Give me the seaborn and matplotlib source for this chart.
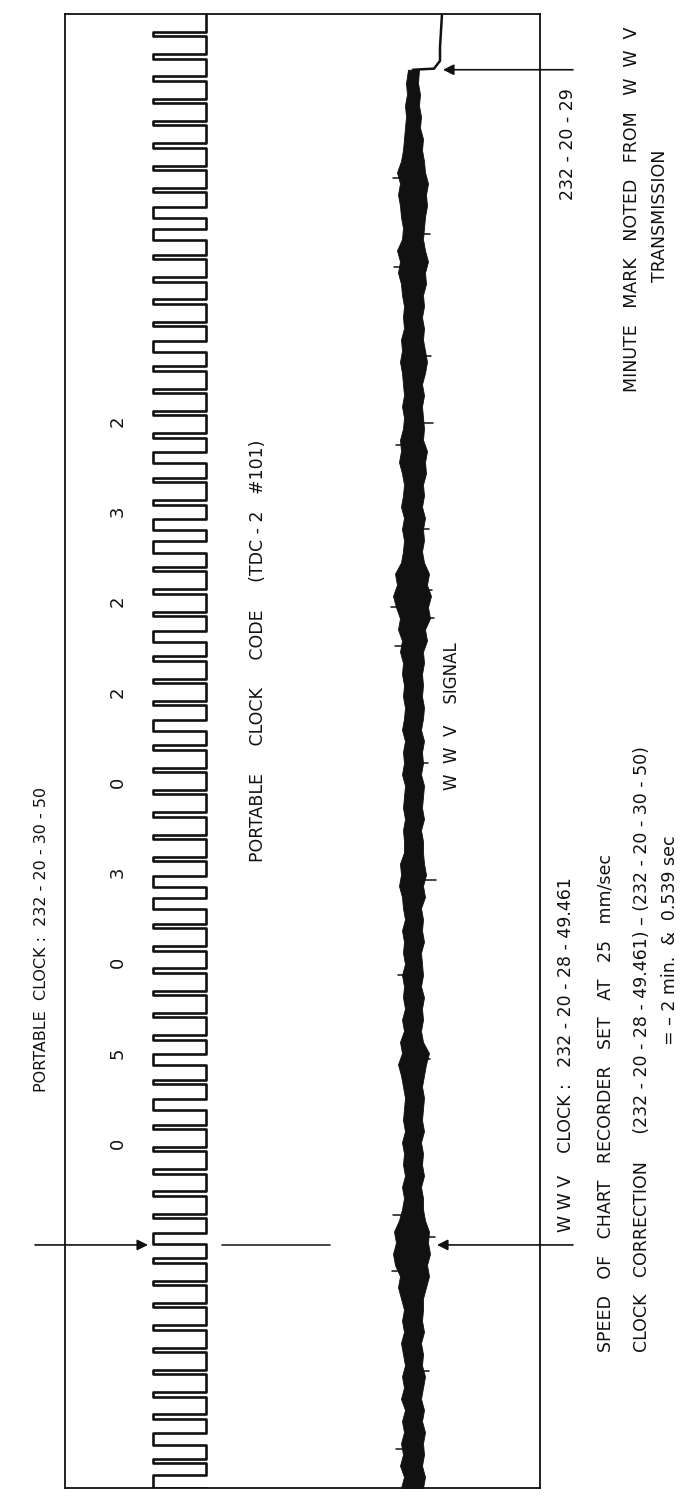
import numpy as np
import matplotlib
matplotlib.use("Agg")
import matplotlib.pyplot as plt
import seaborn as sns
import pandas as pd

sns.set_theme(style="white")
plt.rcParams['font.family'] = ['DejaVu Sans']

# ---------------- data ----------------
# portable clock code pulses, bottom (earliest) to top: n = narrow, w = wide, m = marker
code_pulses = list("mnwnnnnnnnnw" "nnnn" "nwnw" "nnnn" "nnww" "nnnn" "nnwn" "nnwn" "nnww" "nnwn"
                   "nnnwnnnnwwnnnnnnnn")
pulse_width = {"n": 0.04, "w": 0.10, "m": 0.16}    # seconds
pulse_period = 0.2                                   # seconds
first_pulse = 0.04                                   # seconds
code_digits = ["0", "5", "0", "3", "0", "2", "2", "3", "2"]

# WWV signal envelope (deflection below / above the trace centre), sampled every 0.1 s
sig_lo = [1.2, 0.9, 1.3, 1.0, 1.2, 0.9,
          1.1, 0.8, 1.2, 0.9, 1.1, 0.8, 1.0, 1.2, 0.9, 1.1, 0.9,
          1.2, 1.5, 1.3, 1.8, 2.0, 1.7, 1.9, 1.4, 1.1,
          0.9, 1.1, 0.8, 1.0, 0.9, 1.1, 0.8, 1.0, 0.9, 0.8, 1.0,
          1.2, 1.5, 1.1, 1.3,
          0.9, 1.1, 0.8, 1.0, 0.9, 1.1, 0.8, 1.0, 0.9, 1.1, 0.8, 1.0,
          1.1, 1.4, 1.2, 1.3, 0.9,
          0.9, 1.0, 0.8, 1.0, 0.9, 0.8, 1.1, 0.9, 1.0, 0.8, 1.1, 0.9, 0.8, 1.0, 0.9, 1.1,
          1.0, 1.3, 1.1, 1.5, 1.3, 1.7, 2.0, 1.6, 1.8, 1.2,
          1.0, 0.9, 1.1, 0.9, 1.2, 1.0, 0.9, 1.1, 1.4, 1.2, 1.3, 1.0,
          0.9, 1.1, 0.9, 1.0, 1.1, 1.3, 1.1, 1.2, 0.9,
          1.0, 0.9, 1.1, 1.2, 1.5, 1.3, 1.6, 1.1, 1.0, 1.2, 1.3,
          1.5, 1.3, 1.6, 1.2, 1.0, 0.9,
          0.8, 0.7, 0.8, 0.6, 0.7, 0.5]
sig_hi = [1.0, 1.2, 0.9, 1.1, 1.0, 1.2,
          0.9, 1.1, 0.8, 1.0, 1.2, 0.9, 1.0, 0.8, 1.1, 0.9, 1.0,
          1.0, 1.3, 1.6, 1.4, 1.7, 1.5, 1.6, 1.2, 1.0,
          1.0, 0.8, 1.1, 0.9, 1.0, 0.8, 1.1, 0.9, 1.0, 1.1, 0.9,
          1.1, 1.3, 1.6, 1.0,
          0.8, 1.0, 0.9, 1.1, 0.8, 1.0, 0.9, 0.8, 1.1, 0.9, 1.0, 0.8,
          1.2, 1.0, 1.3, 1.1, 1.0,
          1.0, 0.8, 1.1, 0.9, 1.0, 1.1, 0.8, 1.0, 0.9, 1.1, 0.8, 1.0, 1.1, 0.9, 1.0, 0.9,
          1.1, 1.0, 1.4, 1.2, 1.7, 1.5, 1.8, 1.4, 1.6, 1.1,
          0.9, 1.1, 1.0, 1.2, 0.9, 1.1, 1.0, 1.3, 1.2, 1.4, 1.0, 1.1,
          1.0, 0.9, 1.1, 0.9, 1.2, 1.4, 1.2, 1.0, 1.1,
          0.9, 1.1, 1.0, 1.3, 1.2, 1.5, 1.2, 1.0, 1.1, 1.2, 1.4,
          1.3, 1.5, 1.2, 1.1, 0.9, 1.0,
          0.7, 0.8, 0.6, 0.7, 0.5, 0.6]
sig_step = 0.1
# isolated noise spikes on the WWV trace: time (s) and signed length
spike_t = [0.35, 1.05, 1.95, 2.25, 2.45, 3.85, 4.6, 5.45, 6.5, 7.55, 7.8, 7.9, 8.05,
           8.6, 9.35, 9.55, 10.15, 10.95, 11.25, 11.75]
spike_len = [-1.7, 1.6, -2.1, 2.2, -2.0, 1.7, -1.5, 2.3, 1.5, -1.8, 2.1, -2.2, 1.9,
             1.6, -1.7, 2.0, 1.8, -1.9, 1.7, -2.0]
t_wwv_clock = 2.18     # s, WWV clock 232-20-28-49.461
t_minute = 12.72       # s, minute mark 232-20-29

# ---------------- layout ----------------
W, H, DPI = 699, 1501, 100
T_TOTAL = 13.22
X_TOTAL = 47.5
SQ_LOW, SQ_HIGH = 8.8, 14.1
SIG_C = 34.8
MIN_MARK_X = 37.5
INK = "#111111"

fig = plt.figure(figsize=(W / DPI, H / DPI), dpi=DPI)
fig.patch.set_facecolor("white")
ax = fig.add_axes([65 / W, (H - 1488) / H, (540 - 65) / W, (1488 - 14) / H])
ax.set_xlim(0, X_TOTAL)
ax.set_ylim(0, T_TOTAL)
ax.set_xticks([])
ax.set_yticks([])
for s in ax.spines.values():
    s.set_color(INK)
    s.set_linewidth(1.3)

# square wave built from the code pulses
xs, ts = [SQ_HIGH], [0.0]
for k, c in enumerate(code_pulses):
    tc = first_pulse + pulse_period * k
    d = pulse_width[c]
    t0, t1 = max(tc - d / 2, 0.0), tc + d / 2
    xs += [SQ_HIGH, SQ_LOW, SQ_LOW, SQ_HIGH]
    ts += [t0, t0, t1, t1]
xs.append(SQ_HIGH)
ts.append(T_TOTAL)
sq = pd.DataFrame({"x": xs, "t": ts})
sns.lineplot(data=sq, x="x", y="t", sort=False, estimator=None, ax=ax,
             color=INK, lw=1.9, solid_joinstyle="round", solid_capstyle="round")

# WWV signal
t_sig = np.arange(len(sig_lo)) * sig_step
t_sig[-1] = t_minute
lo = SIG_C - np.array(sig_lo)
hi = SIG_C + np.array(sig_hi)
ax.fill_betweenx(t_sig, lo, hi, color=INK, lw=0.6, edgecolor=INK)
for ts_, ln in zip(spike_t, spike_len):
    ax.plot([SIG_C, SIG_C + ln], [ts_, ts_], color=INK, lw=1.1)
mm = pd.DataFrame({"x": [SIG_C, MIN_MARK_X - 0.6, MIN_MARK_X, MIN_MARK_X, MIN_MARK_X + 0.2],
                   "t": [t_minute, t_minute + 0.01, t_minute + 0.08, T_TOTAL - 0.3, T_TOTAL]})
sns.lineplot(data=mm, x="x", y="t", sort=False, estimator=None, ax=ax, color=INK, lw=1.8)

# arrows / reference lines
arrow_kw = dict(arrowstyle="-|>", color=INK, lw=1.2, mutation_scale=16, shrinkA=0, shrinkB=0)
ax.annotate("", xy=(8.3, t_wwv_clock), xytext=(-3.0, t_wwv_clock), arrowprops=arrow_kw,
            annotation_clip=False)
ax.plot([15.7, 26.5], [t_wwv_clock, t_wwv_clock], color=INK, lw=1.1, clip_on=False)
ax.annotate("", xy=(37.2, t_wwv_clock), xytext=(50.8, t_wwv_clock), arrowprops=arrow_kw,
            annotation_clip=False)
ax.annotate("", xy=(37.8, t_minute), xytext=(50.8, t_minute), arrowprops=arrow_kw,
            annotation_clip=False)

# digits of the code
for i, dgt in enumerate(code_digits):
    ax.text(5.3, 3.09 + 0.81 * i, dgt, rotation=90, ha="center", va="center",
            fontsize=13, color=INK, clip_on=False)

def vtext(x, t, s, fs=12.5):
    ax.text(x, t, s, rotation=90, ha="center", va="bottom", fontsize=fs, color=INK,
            clip_on=False)

vtext(-2.3, 3.55, "PORTABLE  CLOCK :  232 - 20 - 30 - 50", fs=11.5)
vtext(19.3, 5.61, "PORTABLE     CLOCK     CODE     (TDC - 2   #101)")
vtext(38.7, 6.26, "W  W  V    SIGNAL", fs=12)
vtext(50.3, 11.55, "232 - 20 - 29")
vtext(56.7, 9.83, "MINUTE   MARK   NOTED   FROM   W  W  V")
vtext(59.5, 10.82, "TRANSMISSION")
vtext(50.1, 2.30, "W W V    CLOCK :   232 - 20 - 28 - 49.461")
vtext(54.0, 1.22, "SPEED   OF   CHART   RECORDER   SET   AT   25   mm/sec")
vtext(57.7, 1.22, "CLOCK   CORRECTION     (232 - 20 - 28 - 49.461) \u2013 (232 - 20 - 30 - 50)")
vtext(60.5, 3.97, "= \u2013 2 min.  &  0.539 sec")

fig.savefig("out.png", dpi=DPI, facecolor="white")
